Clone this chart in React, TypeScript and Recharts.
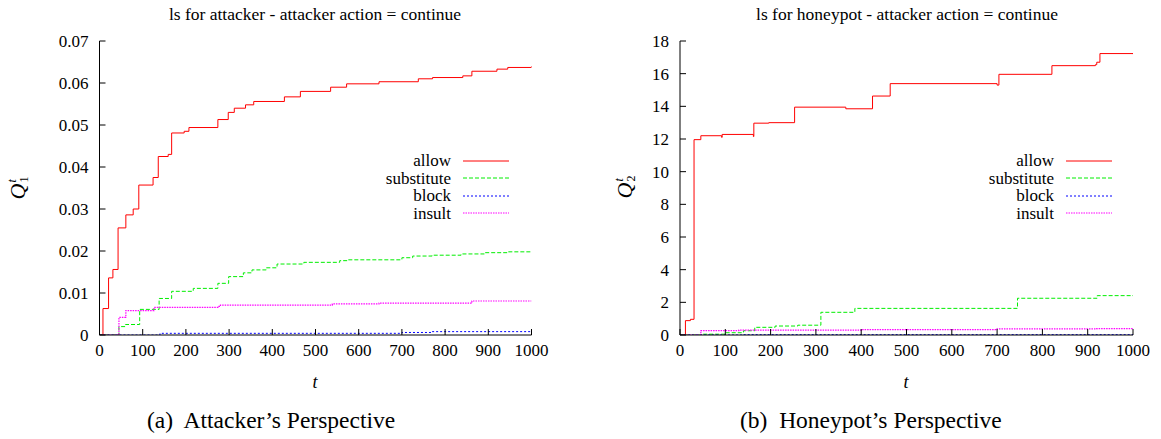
import React from 'react'
import { LineChart, Line, XAxis, YAxis, Legend } from 'recharts'

const FONT = '"Liberation Serif", "Times New Roman", Times, serif'

const X_TICKS = [0, 100, 200, 300, 400, 500, 600, 700, 800, 900, 1000]
const Q1_TICKS = [0, 0.01, 0.02, 0.03, 0.04, 0.05, 0.06, 0.07]
const Q2_TICKS = [0, 2, 4, 6, 8, 10, 12, 14, 16, 18]
const ACTIONS = ['allow', 'substitute', 'block', 'insult']

// (a) attacker's perspective
const atkAllowT = [0, 8, 21, 31, 43, 61, 78, 91, 124, 136, 159, 167, 196, 207, 274, 298, 312, 338, 357, 428, 465, 535, 572, 647, 738, 771, 841, 862, 920, 945, 1000]
const atkAllowV = [0, 0.0063, 0.0136, 0.0156, 0.0255, 0.0286, 0.03, 0.0357, 0.0375, 0.0425, 0.043, 0.0481, 0.0485, 0.0494, 0.0513, 0.053, 0.054, 0.0548, 0.0556, 0.0567, 0.058, 0.059, 0.0598, 0.0603, 0.061, 0.0613, 0.0617, 0.0628, 0.0633, 0.0637, 0.064]
const atkSubstT = [0, 45, 60, 93, 138, 167, 217, 274, 299, 333, 353, 386, 411, 473, 556, 576, 700, 725, 770, 837, 891, 944, 1000]
const atkSubstV = [0, 0.002, 0.0025, 0.0061, 0.0087, 0.0104, 0.0111, 0.0123, 0.0139, 0.0148, 0.0155, 0.016, 0.0169, 0.0173, 0.0177, 0.0179, 0.0184, 0.0188, 0.019, 0.0193, 0.0196, 0.0198, 0.0199]
const atkBlockT = [0, 140, 700, 770, 1000]
const atkBlockV = [0, 0.0004, 0.0006, 0.0008, 0.0009]
const atkInsultT = [0, 45, 61, 126, 274, 280, 539, 647, 862, 1000]
const atkInsultV = [0, 0.0042, 0.0058, 0.0066, 0.0068, 0.0071, 0.0074, 0.0076, 0.0081, 0.0081]

// (b) honeypot's perspective
const hpAllowT = [0, 12, 23, 31, 46, 92, 93, 162, 163, 196, 253, 366, 425, 464, 700, 704, 821, 917, 920, 927, 1000]
const hpAllowV = [0, 0.88, 0.96, 11.96, 12.2, 12.1, 12.28, 12.15, 12.97, 13.0, 13.95, 13.85, 14.63, 15.39, 15.3, 15.96, 16.49, 16.55, 16.7, 17.23, 17.2]
const hpSubstT = [0, 47, 100, 140, 165, 210, 260, 311, 386, 745, 921, 1000]
const hpSubstV = [0, 0.05, 0.14, 0.26, 0.47, 0.55, 0.6, 1.39, 1.63, 2.25, 2.41, 2.43]
const hpBlockT = [0, 140, 1000]
const hpBlockV = [0, 0.02, 0.03]
const hpInsultT = [0, 46, 130, 400, 700, 920, 1000]
const hpInsultV = [0, 0.27, 0.3, 0.33, 0.37, 0.39, 0.39]

const STYLES: Record<string, { color: string; dash?: string; w: number }> = {
  allow: { color: '#ff0000', w: 1 },
  substitute: { color: '#00ee00', dash: '4 2', w: 1 },
  block: { color: '#0000ff', dash: '2 2', w: 1 },
  insult: { color: '#ff00ff', dash: '1.5 1', w: 1.2 },
}

const zip = (t: number[], v: number[]) => t.map((x, i) => ({ t: x, v: v[i] }))

const atkSeries = [
  { name: 'allow', data: zip(atkAllowT, atkAllowV) },
  { name: 'substitute', data: zip(atkSubstT, atkSubstV) },
  { name: 'block', data: zip(atkBlockT, atkBlockV) },
  { name: 'insult', data: zip(atkInsultT, atkInsultV) },
]
const hpSeries = [
  { name: 'allow', data: zip(hpAllowT, hpAllowV) },
  { name: 'substitute', data: zip(hpSubstT, hpSubstV) },
  { name: 'block', data: zip(hpBlockT, hpBlockV) },
  { name: 'insult', data: zip(hpInsultT, hpInsultV) },
]

const tickStyle = { fill: '#000', fontSize: 17, fontFamily: FONT }

// gnuplot-style key: label right-aligned, sample line after it, in plot order
const renderLegend = (props: any) => {
  const items = [...(props.payload || [])].sort(
    (a: any, b: any) => ACTIONS.indexOf(a.value) - ACTIONS.indexOf(b.value)
  )
  return (
    <div style={{ fontFamily: FONT, fontSize: 17, color: '#000' }}>
      {items.map((p: any) => {
        const st = STYLES[p.value] || { color: p.color, w: 1 }
        return (
          <div key={p.value} style={{ display: 'flex', alignItems: 'center', height: 17.5 }}>
            <span style={{ width: 120, textAlign: 'right', lineHeight: '17.5px' }}>{p.value}</span>
            <svg width={58} height={10}>
              <line x1={12} x2={58} y1={5} y2={5} stroke={st.color} strokeWidth={st.w} strokeDasharray={st.dash} />
            </svg>
          </div>
        )
      })}
    </div>
  )
}

function Panel({
  left,
  width,
  plotLeft,
  plotRight,
  series,
  yTicks,
  yMax,
  legendRight,
}: {
  left: number
  width: number
  plotLeft: number
  plotRight: number
  series: { name: string; data: { t: number; v: number }[] }[]
  yTicks: number[]
  yMax: number
  legendRight: number
}) {
  return (
    <div style={{ position: 'absolute', left, top: 0 }}>
      <LineChart
        width={width}
        height={439}
        margin={{ top: 41, right: width - plotRight, bottom: 74, left: plotLeft - 60 }}
      >
        <XAxis
          xAxisId="b"
          dataKey="t"
          type="number"
          domain={[0, 1000]}
          ticks={X_TICKS}
          interval={0}
          height={30}
          stroke="#000"
          tickSize={-6}
          tickMargin={15}
          tick={tickStyle}
          allowDataOverflow
        />
        <XAxis
          xAxisId="top"
          orientation="top"
          type="number"
          domain={[0, 1000]}
          ticks={X_TICKS}
          interval={0}
          height={0}
          stroke="#000"
          tickSize={-6}
          tick={false}
          allowDataOverflow
        />
        <YAxis
          yAxisId="l"
          type="number"
          domain={[0, yMax]}
          ticks={yTicks}
          interval={0}
          width={60}
          stroke="#000"
          tickSize={-6}
          tickMargin={17}
          tick={tickStyle}
          tickFormatter={(v: number) => String(v)}
          allowDataOverflow
        />
        <YAxis
          yAxisId="r"
          orientation="right"
          type="number"
          domain={[0, yMax]}
          ticks={yTicks}
          interval={0}
          width={0}
          stroke="#000"
          tickSize={-6}
          tick={false}
          allowDataOverflow
        />
        <Legend
          layout="vertical"
          align="center"
          verticalAlign="middle"
          content={renderLegend}
          wrapperStyle={{ position: 'absolute', left: legendRight - 120, top: 152, width: 180, height: 72 }}
        />
        {series.map((s) => (
          <Line
            key={s.name}
            xAxisId="b"
            yAxisId="l"
            data={s.data}
            dataKey="v"
            name={s.name}
            type="stepAfter"
            stroke={STYLES[s.name].color}
            strokeDasharray={STYLES[s.name].dash}
            strokeWidth={STYLES[s.name].w}
            dot={false}
            activeDot={false}
            isAnimationActive={false}
          />
        ))}
      </LineChart>
    </div>
  )
}

function Txt({ x, y, size, italic, children }: { x: number; y: number; size: number; italic?: boolean; children: React.ReactNode }) {
  return (
    <div
      style={{
        position: 'absolute',
        left: x,
        top: y,
        transform: 'translate(-50%, -50%)',
        whiteSpace: 'nowrap',
        lineHeight: 1,
        fontSize: size,
        fontStyle: italic ? 'italic' : 'normal',
      }}
    >
      {children}
    </div>
  )
}

function QLabel({ x, y, idx }: { x: number; y: number; idx: string }) {
  return (
    <div
      style={{
        position: 'absolute',
        left: x,
        top: y,
        transform: 'translate(-50%, -50%) rotate(-90deg)',
        whiteSpace: 'nowrap',
        lineHeight: 1,
        display: 'flex',
        alignItems: 'center',
      }}
    >
      <span style={{ fontSize: 22, fontStyle: 'italic' }}>Q</span>
      <span style={{ display: 'inline-flex', flexDirection: 'column', fontSize: 12, lineHeight: 1, marginLeft: 1 }}>
        <span style={{ fontStyle: 'italic' }}>t</span>
        <span>{idx}</span>
      </span>
    </div>
  )
}

export default function App() {
  return (
    <div
      style={{
        position: 'absolute',
        left: 0,
        top: 0,
        width: 1161,
        height: 439,
        background: '#fff',
        fontFamily: FONT,
        color: '#000',
        overflow: 'hidden',
      }}
    >
      <Panel left={0} width={580} plotLeft={99.5} plotRight={531.5} series={atkSeries} yTicks={Q1_TICKS} yMax={0.07} legendRight={451} />
      <Panel left={580} width={581} plotLeft={100} plotRight={553} series={hpSeries} yTicks={Q2_TICKS} yMax={18} legendRight={474} />

      <Txt x={315} y={15} size={17.5}>ls for attacker - attacker action = continue</Txt>
      <Txt x={907} y={15} size={17.5}>ls for honeypot - attacker action = continue</Txt>

      <QLabel x={18} y={188} idx="1" />
      <QLabel x={625} y={187} idx="2" />

      <Txt x={315} y={382} size={18} italic>t</Txt>
      <Txt x={906} y={382} size={18} italic>t</Txt>

      <div style={{ position: 'absolute', left: 147, top: 409, fontSize: 23.5, lineHeight: 1, whiteSpace: 'pre' }}>(a)  Attacker’s Perspective</div>
      <div style={{ position: 'absolute', left: 740, top: 409, fontSize: 23.5, lineHeight: 1, whiteSpace: 'pre' }}>(b)  Honeypot’s Perspective</div>
    </div>
  )
}
